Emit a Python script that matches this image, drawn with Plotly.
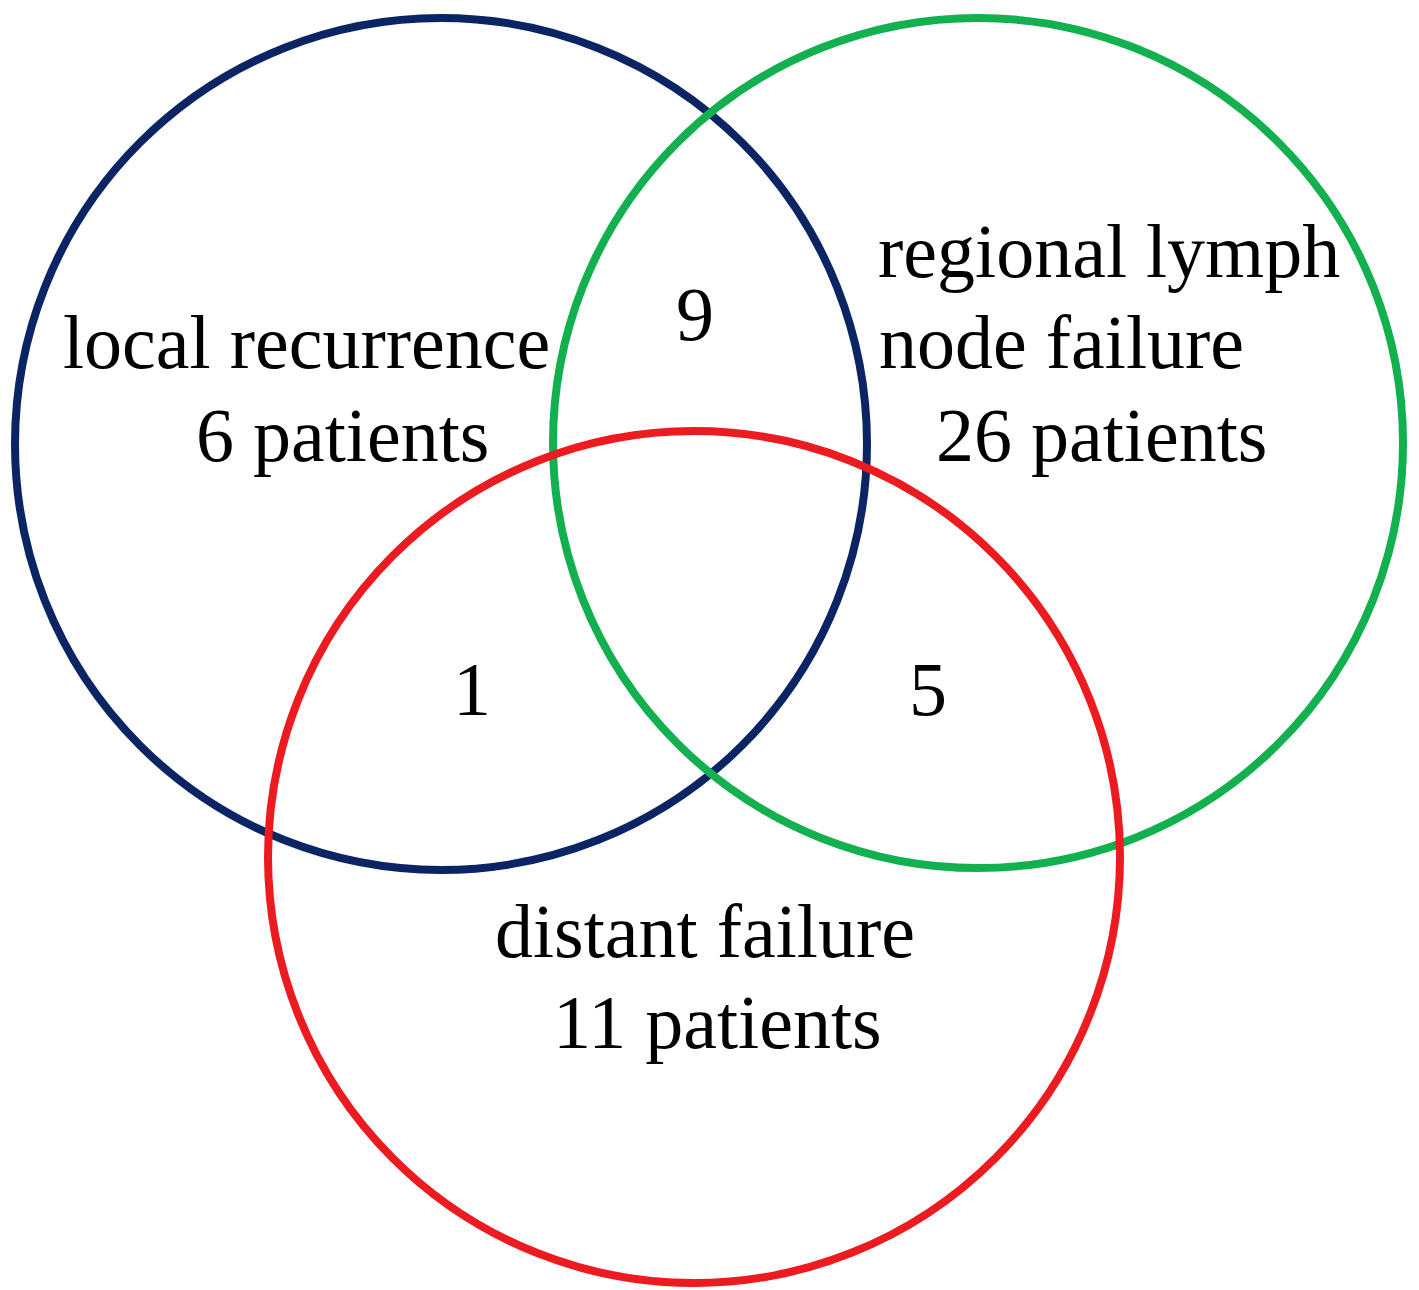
import plotly.graph_objects as go

# ---- data ----
set_names = ["local recurrence", "regional lymph node failure", "distant failure"]
set_counts = [6, 26, 11]
overlap_names = ["local & regional", "local & distant", "regional & distant"]
overlap_counts = [9, 1, 5]
set_colors = ["#0b2463", "#13b04f", "#ec1b1f"]

# ---- layout (pixel space) ----
circle_cx = [441, 978, 694]
circle_cy = [444, 443, 857]
circle_r = [426, 425, 426]

# label lines for each set: (text, x, y)
set_label_lines = [
    [("local recurrence", 306, 342), ("{} patients", 342, 435)],
    [("regional lymph", 1109, 251), ("node failure", 1061, 342), ("{} patients", 1101, 435)],
    [("distant failure", 705, 931), ("{} patients", 717, 1022)],
]
overlap_pos = [(695, 314), (472, 689), (928, 689)]

W, H = 1419, 1290
FONT = "Liberation Serif, Times New Roman, serif"
FS = 76

fig = go.Figure()
fig.add_trace(go.Scatter(x=[0, W], y=[0, H], mode="markers",
                         marker=dict(opacity=0), hoverinfo="skip", showlegend=False))

for cx, cy, r, col in zip(circle_cx, circle_cy, circle_r, set_colors):
    fig.add_shape(type="circle", xref="x", yref="y",
                  x0=cx - r, x1=cx + r, y0=cy - r, y1=cy + r,
                  line=dict(color=col, width=8), fillcolor="rgba(0,0,0,0)")

for lines, cnt in zip(set_label_lines, set_counts):
    for txt, x, y in lines:
        fig.add_annotation(x=x, y=y, xref="x", yref="y", text=txt.format(cnt),
                           showarrow=False, xanchor="center", yanchor="middle",
                           font=dict(family=FONT, size=FS, color="black"))

for (x, y), cnt in zip(overlap_pos, overlap_counts):
    fig.add_annotation(x=x, y=y, xref="x", yref="y", text=str(cnt),
                       showarrow=False, xanchor="center", yanchor="middle",
                       font=dict(family=FONT, size=FS, color="black"))

fig.update_layout(
    width=W, height=H,
    margin=dict(l=0, r=0, t=0, b=0),
    paper_bgcolor="white", plot_bgcolor="white",
    xaxis=dict(range=[0, W], visible=False, fixedrange=True),
    yaxis=dict(range=[H, 0], visible=False, fixedrange=True),
    showlegend=False,
)

fig.write_html("out.html", config={"displayModeBar": False},
               post_script="document.body.style.margin='0';document.body.style.overflow='hidden';")
